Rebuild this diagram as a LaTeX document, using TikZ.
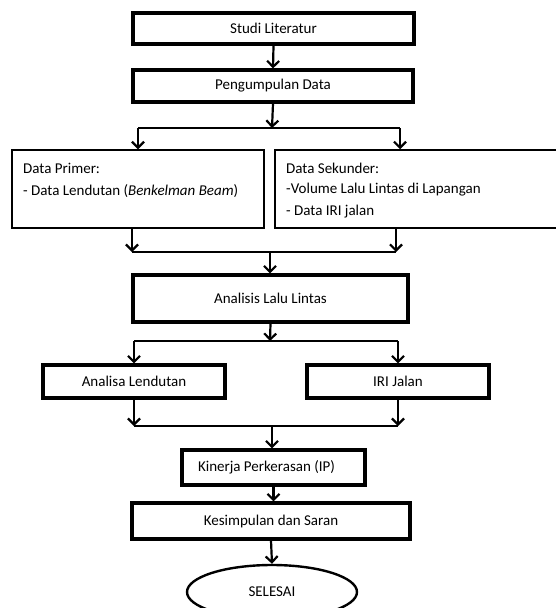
\documentclass[tikz,border=0pt]{standalone}
\usepackage{fontspec}
\setmainfont{Carlito}
\usetikzlibrary{arrows.meta,shapes.geometric}
\begin{document}
\begin{tikzpicture}[x=1pt,y=-1pt,
  bx/.style={draw=black,line width=3.2pt,inner sep=0pt,font=\fontsize{15}{18}\selectfont},
  thinbx/.style={draw=black,line width=1.5pt,inner sep=0pt},
  txt/.style={inner sep=0pt,anchor=west,font=\fontsize{15}{18}\selectfont},
  arr/.style={line width=2.2pt,-{Straight Barb[length=6pt,width=12pt,line width=2.2pt]}},
  ln/.style={line width=2.2pt}]
\useasboundingbox (0,0) rectangle (556,608);

\node[bx,minimum width=281pt,minimum height=31pt] (studi) at (273.5,28.5) {Studi Literatur};
\node[bx,minimum width=280pt,minimum height=32pt] (peng) at (273,86) {Pengumpulan Data};

\node[thinbx,minimum width=252pt,minimum height=78pt] (primer) at (138,189) {};
\node[thinbx,minimum width=285pt,minimum height=78pt] (sekunder) at (417.5,189) {};
\node[txt] (p1) at (23,168) {Data Primer:};
\node[txt] (p2) at (23,191) {- Data Lendutan (\textit{Benkelman Beam})};
\node[txt] (s1t) at (286,168) {Data Sekunder:};
\node[txt] (s2t) at (286,190) {-Volume Lalu Lintas di Lapangan};
\node[txt] (s3t) at (286,212) {- Data IRI jalan};

\node[bx,minimum width=275pt,minimum height=47pt] (analisis) at (270.5,298.5) {Analisis Lalu Lintas};
\node[bx,minimum width=182pt,minimum height=33pt] (lend) at (134,381.5) {Analisa Lendutan};
\node[bx,minimum width=182pt,minimum height=33pt] (iri) at (398,381.5) {IRI Jalan};
\node[bx,minimum width=183pt,minimum height=35pt] (kinerja) at (273.5,467.5) {Kinerja Perkerasan (IP)\hspace*{14pt}};
\node[bx,minimum width=278pt,minimum height=36pt] (kesimpulan) at (271,521) {Kesimpulan dan Saran};
\node[bx,ellipse,line width=2.4pt,minimum width=170pt,minimum height=54pt] (selesai) at (272,592) {SELESAI};

% connectors
\draw[arr] (studi.south) -- (peng.north);

\coordinate (a1) at (272,128);
\coordinate (a1l) at (138,128);
\coordinate (a1r) at (400,128);
\draw[arr] (peng.south) -- (a1);
\draw[ln] (a1l) -- (a1r);
\draw[arr] (a1l) -- (a1l |- primer.north);
\draw[arr] (a1r) -- (a1r |- sekunder.north);

\coordinate (b1l) at (132,252);
\coordinate (b1r) at (396,252);
\coordinate (b1) at (270,252);
\draw[arr] (b1l |- primer.south) -- (b1l);
\draw[arr] (b1r |- sekunder.south) -- (b1r);
\draw[ln] (b1l) -- (b1r);
\draw[arr] (b1) -- (b1 |- analisis.north);

\coordinate (c1) at (270,341);
\draw[arr] (analisis.south) -- (c1);
\draw[ln] (lend.north |- c1) -- (iri.north |- c1);
\draw[arr] (lend.north |- c1) -- (lend.north);
\draw[arr] (iri.north |- c1) -- (iri.north);

\coordinate (d1) at (272,426);
\draw[arr] (lend.south) -- (lend.south |- d1);
\draw[arr] (iri.south) -- (iri.south |- d1);
\draw[ln] (lend.south |- d1) -- (iri.south |- d1);
\draw[arr] (d1) -- (d1 |- kinerja.north);

\draw[arr] (kinerja.south) -- (kesimpulan.north -| kinerja.south);
\draw[arr] (kesimpulan.south) -- (selesai.north);
\end{tikzpicture}
\end{document}
